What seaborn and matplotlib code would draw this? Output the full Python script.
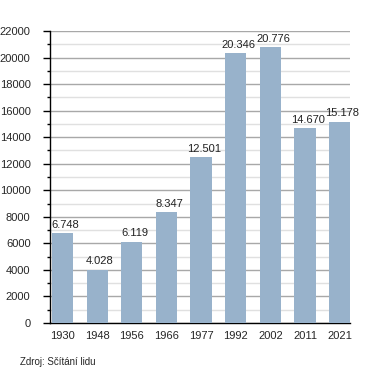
import matplotlib
matplotlib.use("Agg")
import matplotlib.pyplot as plt
import seaborn as sns
import pandas as pd
from matplotlib.ticker import MultipleLocator

years = ["1930", "1948", "1956", "1966", "1977", "1992", "2002", "2011", "2021"]
population = [6748, 4028, 6119, 8347, 12501, 20346, 20776, 14670, 15178]
labels = ["6.748", "4.028", "6.119", "8.347", "12.501", "20.346", "20.776", "14.670", "15.178"]

df = pd.DataFrame({"year": years, "population": population})

sns.set_style("white")
plt.rcParams["font.family"] = ["Liberation Sans", "DejaVu Sans"]

fig = plt.figure(figsize=(3.8, 3.73), dpi=100)
ax = fig.add_axes([50 / 380, 50 / 373, 300 / 380, 292 / 373])

sns.barplot(data=df, x="year", y="population", color="#98b2cb", saturation=1,
            width=0.61, ax=ax, zorder=3, edgecolor="none", linewidth=0)

ax.set_ylim(0, 22000)
ax.set_xlim(-0.36, 8.3)
ax.yaxis.set_major_locator(MultipleLocator(2000))
ax.yaxis.set_minor_locator(MultipleLocator(1000))
ax.grid(axis="y", which="major", color="#a8a8a8", linewidth=1, zorder=0)
ax.grid(axis="y", which="minor", color="#e0e0e0", linewidth=1, zorder=0)

for s in ["top", "right"]:
    ax.spines[s].set_visible(False)
for s in ["left", "bottom"]:
    ax.spines[s].set_color("black")
    ax.spines[s].set_linewidth(1)

ax.tick_params(axis="y", which="major", left=True, length=5, width=1, color="black",
               labelsize=8, pad=9)
ax.tick_params(axis="y", which="minor", left=True, length=2, width=1, color="black")
ax.tick_params(axis="x", bottom=False, labelsize=8, pad=2)
ax.set_xlabel("")
ax.set_ylabel("")

# value labels sit a little right of the bar centre, as in the original
for i, (v, t) in enumerate(zip(population, labels)):
    ax.text(i + 0.08, v + 250, t, ha="center", va="bottom", fontsize=8, color="#222222")

fig.text(20 / 380, 1 - 362 / 373, "Zdroj: Sčítání lidu", fontsize=7, va="center")

fig.savefig("out.png", dpi=100)
